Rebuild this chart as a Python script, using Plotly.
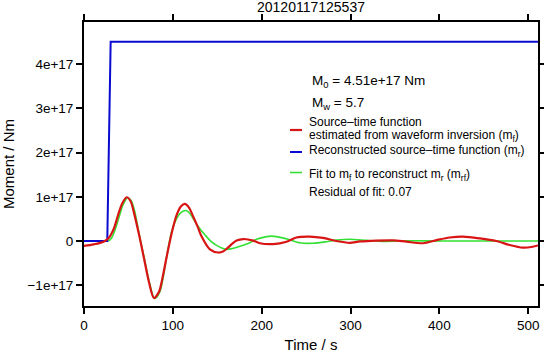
import plotly.graph_objects as go

# ---------------- data (moment in units of 1e17 Nm) ----------------
SCALE = 1e17

blue_t = [0, 26.2, 30.0, 511]
blue_v = [0.0, 0.0, 4.51, 4.51]

red_t = [0, 11, 22, 28, 31, 34, 39, 43, 48, 52.5, 56, 62, 67.5, 73, 78.7, 84.4, 89, 93,
         98.6, 104.3, 109, 113.6, 118, 123, 128, 132.4, 141.7, 151, 157, 162, 167, 171.8,
         179.2, 190.5, 198, 213, 228, 239, 254, 269, 284, 299, 310.5, 329, 348, 363,
         381.7, 396.7, 411.7, 426.7, 445.5, 464, 479, 494, 505, 511]
red_v = [-0.11, -0.075, -0.015, 0.075, 0.17, 0.30, 0.63, 0.85, 0.99, 0.90, 0.66, 0.14, -0.39,
         -0.92, -1.29, -1.15, -0.77, -0.36, 0.17, 0.59, 0.78, 0.84, 0.76, 0.55, 0.32, 0.10,
         -0.19, -0.26, -0.23, -0.15, -0.06, 0.01, 0.045, 0.01, -0.05, -0.07, -0.015, 0.08,
         0.10, 0.07, 0.0, -0.04, -0.01, 0.01, 0.015, -0.015, -0.05, 0.02, 0.08, 0.10, 0.06,
         0.0, -0.09, -0.15, -0.13, -0.10]

green_t = [0, 26, 28, 31, 34, 37, 40, 44, 49, 53, 57, 62, 68, 73.5, 79.5, 85, 89.5, 93,
           98.6, 104.3, 109, 114.7, 119, 124.9, 130, 136.1, 142, 149.2, 155, 161, 167,
           175.5, 186.7, 194.2, 205.5, 211, 216.7, 229.8, 243, 258, 273, 284, 299, 318,
           336.7, 352, 370, 400, 450, 511]
green_v = [0.0, 0.0, 0.01, 0.07, 0.20, 0.38, 0.58, 0.82, 0.98, 0.92, 0.68, 0.16, -0.40, -0.93,
           -1.30, -1.17, -0.78, -0.36, 0.21, 0.51, 0.64, 0.69, 0.63, 0.44, 0.29, 0.14, 0.01,
           -0.10, -0.16, -0.19, -0.17, -0.12, -0.04, 0.04, 0.10, 0.11, 0.10, 0.04, -0.04,
           -0.05, -0.015, 0.02, 0.04, 0.015, -0.01, 0.0, 0.005, 0.0, 0.0, 0.0]

x_ticks = [0, 100, 200, 300, 400, 500]
y_tick_vals = [-1, 0, 1, 2, 3, 4]
y_tick_text = ["\u22121e+17", "0", "1e+17", "2e+17", "3e+17", "4e+17"]

title_text = "20120117125537"
m0_text = "M<sub>0</sub> = 4.51e+17 Nm"
mw_text = "M<sub>w</sub> = 5.7"
red_label = ["Source\u2013time function", "estimated from waveform inversion (m<sub>f</sub>)"]
blue_label = "Reconstructed source\u2013time function (m<sub>r</sub>)"
green_label = "Fit to m<sub>f</sub> to reconstruct m<sub>r</sub> (m<sub>rf</sub>)"
resid_label = "Residual of fit: 0.07"

RED = "#d81414"
BLUE = "#0a0ad0"
GREEN = "#33e033"
FONT = "Liberation Sans, Arial, Helvetica, sans-serif"

W, H = 544, 353
ML, MR, MT, MB = 84, 6, 22, 47
PW, PH = W - ML - MR, H - MT - MB


def px(x):
    return (x - ML) / PW


def py(y):
    return (H - MB - y) / PH


fig = go.Figure()
fig.add_trace(go.Scatter(x=green_t, y=[v * SCALE for v in green_v], mode="lines",
                         line=dict(color=GREEN, width=1.6, shape="spline", smoothing=0.8),
                         showlegend=False, hoverinfo="skip"))
fig.add_trace(go.Scatter(x=blue_t, y=[v * SCALE for v in blue_v], mode="lines",
                         line=dict(color=BLUE, width=2),
                         showlegend=False, hoverinfo="skip"))
fig.add_trace(go.Scatter(x=red_t, y=[v * SCALE for v in red_v], mode="lines",
                         line=dict(color=RED, width=2.2, shape="spline", smoothing=0.8),
                         showlegend=False, hoverinfo="skip"))

axis_common = dict(showgrid=False, zeroline=False, showline=True, linecolor="black",
                   linewidth=2, mirror="ticks", ticks="outside", ticklen=6, tickwidth=1.5,
                   tickcolor="black", automargin=False,
                   tickfont=dict(family=FONT, size=13.5, color="black"))

fig.update_xaxes(range=[0, 511], tickvals=x_ticks, ticktext=[str(v) for v in x_ticks],
                 title=dict(text="Time / s", font=dict(family=FONT, size=15, color="black"),
                            standoff=9),
                 **axis_common)
fig.update_yaxes(range=[-1.47 * SCALE, 4.955 * SCALE],
                 tickvals=[v * SCALE for v in y_tick_vals], ticktext=y_tick_text,
                 title=dict(text="Moment / Nm", font=dict(family=FONT, size=15, color="black"),
                            standoff=10),
                 **axis_common)

annotations = []


def add_text(text, x, y, size):
    annotations.append(dict(text=text, x=px(x), y=py(y), xref="paper", yref="paper",
                            xanchor="left", yanchor="middle", showarrow=False, borderpad=0,
                            font=dict(family=FONT, size=size, color="black")))


add_text(m0_text, 311, 81.5, 13.5)
add_text(mw_text, 311, 103.5, 13.5)
add_text(red_label[0], 308, 121.5, 12)
add_text(red_label[1], 308, 136, 12)
add_text(blue_label, 308, 151, 12)
add_text(green_label, 308, 175, 12)
add_text(resid_label, 308, 192, 12)

shapes = []
for col, yy, wd in [(RED, 130, 2.2), (BLUE, 152, 2), (GREEN, 172.5, 1.6)]:
    shapes.append(dict(type="line", xref="paper", yref="paper", x0=px(290), x1=px(302),
                       y0=py(yy), y1=py(yy), line=dict(color=col, width=wd)))

fig.update_layout(
    width=W, height=H,
    margin=dict(l=ML, r=MR, t=MT, b=MB, autoexpand=False),
    paper_bgcolor="white", plot_bgcolor="white",
    title=dict(text=title_text, x=0.5, xref="paper", y=1 - 7.5 / H, yref="container",
               xanchor="center", yanchor="middle", automargin=False,
               font=dict(family=FONT, size=14, color="black")),
    annotations=annotations,
    shapes=shapes,
    showlegend=False,
)

fig.write_html("out.html")
